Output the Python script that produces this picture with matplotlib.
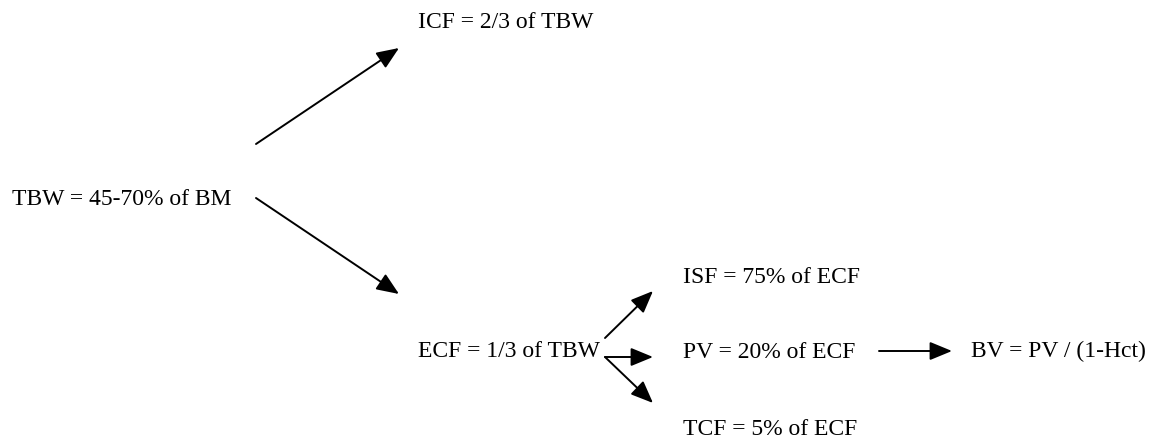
import matplotlib
matplotlib.use("Agg")
import matplotlib.pyplot as plt

# Diagram content
labels = [
    "TBW = 45-70% of BM",
    "ICF = 2/3 of TBW",
    "ECF = 1/3 of TBW",
    "ISF = 75% of ECF",
    "PV = 20% of ECF",
    "TCF = 5% of ECF",
    "BV = PV / (1-Hct)",
]
# text anchor (left, baseline) in pixel coordinates of the canvas
label_x = [12, 418, 418, 683, 683, 683, 971]
label_y = [205, 28, 357, 283, 358, 435, 357]

# arrows: (start_x, start_y, end_x, end_y)
arrow_start_x = [256, 256, 605, 605, 605, 879]
arrow_start_y = [144, 198, 338, 357, 357, 351]
arrow_end_x = [399, 399, 653, 653, 653, 952]
arrow_end_y = [48, 294, 291, 357, 403, 351]

W, H = 1156, 438
fig = plt.figure(figsize=(W / 100, H / 100), dpi=100)
ax = fig.add_axes([0, 0, 1, 1])
ax.set_xlim(0, W)
ax.set_ylim(H, 0)
ax.axis("off")

for t, x, y in zip(labels, label_x, label_y):
    ax.text(x, y, t, ha="left", va="baseline", fontsize=17.0,
            family=["Liberation Serif", "DejaVu Serif"], color="black")

for sx, sy, ex, ey in zip(arrow_start_x, arrow_start_y, arrow_end_x, arrow_end_y):
    ax.annotate("", xy=(ex, ey), xytext=(sx, sy),
                arrowprops=dict(arrowstyle="-|>,head_length=0.8,head_width=0.33",
                                mutation_scale=17, lw=1.4, color="black",
                                shrinkA=0, shrinkB=0))

fig.savefig("out.png", dpi=100, facecolor="white")
